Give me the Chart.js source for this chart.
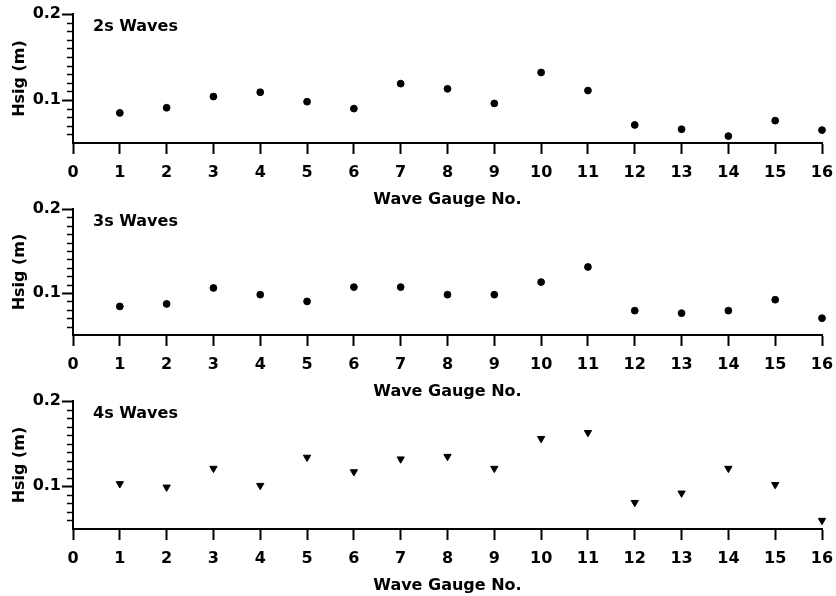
<!DOCTYPE html>
<html>
<head>
<meta charset="utf-8">
<script src="https://cdn.jsdelivr.net/npm/chart.js@4"></script>
<style>
    html, body { margin: 0; padding: 0; background: #fff; }
    #wrap { position: relative; width: 836px; height: 596px; overflow: hidden; }
    #wrap canvas { position: absolute; left: 0; }
</style>
</head>
<body>
<div id="wrap">
    <canvas id="chart-2s" width="836" height="210" style="top:0px"></canvas>
    <canvas id="chart-3s" width="836" height="207" style="top:195px"></canvas>
    <canvas id="chart-4s" width="836" height="209" style="top:387px"></canvas>
</div>
<script>
const gauges = [1, 2, 3, 4, 5, 6, 7, 8, 9, 10, 11, 12, 13, 14, 15, 16];
const hsig2s = [0.085, 0.091, 0.104, 0.109, 0.098, 0.090, 0.119, 0.113, 0.096, 0.132, 0.111, 0.071, 0.066, 0.058, 0.076, 0.065];
const hsig3s = [0.084, 0.087, 0.106, 0.098, 0.090, 0.107, 0.107, 0.098, 0.098, 0.113, 0.131, 0.079, 0.076, 0.079, 0.092, 0.070];
const hsig4s = [0.103, 0.099, 0.121, 0.101, 0.134, 0.117, 0.132, 0.135, 0.121, 0.156, 0.163, 0.081, 0.092, 0.121, 0.102, 0.060];
const xTicks = [0, 1, 2, 3, 4, 5, 6, 7, 8, 9, 10, 11, 12, 13, 14, 15, 16];
const yTicks = [0.1, 0.2];
const yMin = 0.05;
const yMax = 0.2;
const panelLabels = ['2s Waves', '3s Waves', '4s Waves'];

const FONT = '"DejaVu Sans", Verdana, sans-serif';

// minor ticks on the y axis + the panel label in the top left corner
const panelExtras = {
    id: 'panelExtras',
    afterDraw(chart, args, opts) {
        const { ctx, chartArea, scales } = chart;
        const y = scales.y;
        ctx.save();
        ctx.strokeStyle = '#000';
        ctx.lineWidth = 1.5;
        for (let i = 1; i < 15; i++) {
            const v = yMin + i * 0.01;
            if (Math.abs(v - 0.1) < 0.001) continue;
            const py = Math.round(y.getPixelForValue(v)) + 0.5;
            ctx.beginPath();
            ctx.moveTo(chartArea.left - 6, py);
            ctx.lineTo(chartArea.left, py);
            ctx.stroke();
        }
        ctx.fillStyle = '#000';
        ctx.font = 'bold 16px ' + FONT;
        ctx.textBaseline = 'middle';
        ctx.fillText(opts.label, chartArea.left + 20, chartArea.top + 13);
        ctx.restore();
    }
};

function drawPanel(canvasId, values, label, marker) {
    const ctx = document.getElementById(canvasId).getContext('2d');
    return new Chart(ctx, {
        type: 'scatter',
        data: {
            datasets: [{
                data: gauges.map((g, i) => ({ x: g, y: values[i] })),
                pointStyle: marker,
                rotation: marker === 'triangle' ? 180 : 0,
                pointRadius: marker === 'triangle' ? 4.2 : 3.4,
                backgroundColor: '#000',
                borderColor: '#000',
                borderWidth: 1,
                clip: false
            }]
        },
        options: {
            responsive: false,
            animation: false,
            layout: { padding: { top: 14, right: 14, left: 0, bottom: 0 } },
            plugins: {
                legend: { display: false },
                tooltip: { enabled: false },
                panelExtras: { label: label }
            },
            scales: {
                x: {
                    type: 'linear',
                    min: 0,
                    max: 16,
                    afterBuildTicks: s => { s.ticks = xTicks.map(v => ({ value: v })); },
                    afterFit: s => { s.height = 67; s.paddingLeft = 0; s.paddingRight = 0; },
                    border: { display: true, color: '#000', width: 2 },
                    grid: { drawOnChartArea: false, drawTicks: true, tickLength: 11, tickWidth: 2, tickColor: '#000' },
                    ticks: {
                        color: '#000',
                        padding: 9,
                        maxRotation: 0,
                        font: { family: FONT, size: 16, weight: 'bold' },
                        callback: v => String(v)
                    },
                    title: {
                        display: true,
                        text: 'Wave Gauge No.',
                        color: '#000',
                        padding: { top: 0, bottom: 1 },
                        font: { family: FONT, size: 16, weight: 'bold' }
                    }
                },
                y: {
                    min: yMin,
                    max: yMax,
                    afterBuildTicks: s => { s.ticks = yTicks.map(v => ({ value: v })); },
                    afterFit: s => { s.width = 73; },
                    border: { display: true, color: '#000', width: 2 },
                    grid: { drawOnChartArea: false, drawTicks: true, tickLength: 11, tickWidth: 2, tickColor: '#000' },
                    ticks: {
                        color: '#000',
                        padding: 1,
                        font: { family: FONT, size: 16, weight: 'bold' },
                        callback: v => v.toFixed(1)
                    },
                    title: {
                        display: true,
                        text: 'Hsig (m)',
                        color: '#000',
                        padding: { top: 10, bottom: 0 },
                        font: { family: FONT, size: 16, weight: 'bold' }
                    }
                }
            }
        },
        plugins: [panelExtras]
    });
}

document.addEventListener('DOMContentLoaded', function () {
    drawPanel('chart-2s', hsig2s, panelLabels[0], 'circle');
    drawPanel('chart-3s', hsig3s, panelLabels[1], 'circle');
    drawPanel('chart-4s', hsig4s, panelLabels[2], 'triangle');
});
</script>
</body>
</html>
